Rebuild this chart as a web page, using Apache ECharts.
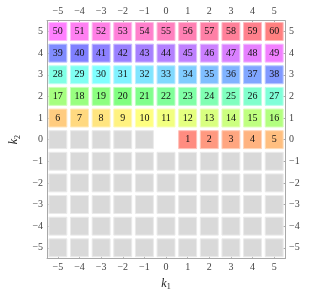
<!DOCTYPE html>
<html>
<head>
<meta charset="utf-8">
<script src="https://cdn.jsdelivr.net/npm/echarts@6/dist/echarts.min.js"></script>
<style>html,body{margin:0;padding:0;background:#fff;}#c{width:311px;height:296px;}</style>
</head>
<body>
<div id="c"></div>
<script>
// tick values on all four sides
const tickValues = [-5, -4, -3, -2, -1, 0, 1, 2, 3, 4, 5];
// k1 columns (left to right)
const k1Values = [-5, -4, -3, -2, -1, 0, 1, 2, 3, 4, 5];
// k2 rows (top to bottom)
const k2Values = [5, 4, 3, 2, 1, 0, -1, -2, -3, -4, -5];
// cell numbers per row; 0 = grey (unnumbered) cell, null = no cell
const row5  = [50, 51, 52, 53, 54, 55, 56, 57, 58, 59, 60];
const row4  = [39, 40, 41, 42, 43, 44, 45, 46, 47, 48, 49];
const row3  = [28, 29, 30, 31, 32, 33, 34, 35, 36, 37, 38];
const row2  = [17, 18, 19, 20, 21, 22, 23, 24, 25, 26, 27];
const row1  = [6, 7, 8, 9, 10, 11, 12, 13, 14, 15, 16];
const row0  = [0, 0, 0, 0, 0, null, 1, 2, 3, 4, 5];
const rowM1 = [0, 0, 0, 0, 0, 0, 0, 0, 0, 0, 0];
const rowM2 = [0, 0, 0, 0, 0, 0, 0, 0, 0, 0, 0];
const rowM3 = [0, 0, 0, 0, 0, 0, 0, 0, 0, 0, 0];
const rowM4 = [0, 0, 0, 0, 0, 0, 0, 0, 0, 0, 0];
const rowM5 = [0, 0, 0, 0, 0, 0, 0, 0, 0, 0, 0];
const rows = [row5, row4, row3, row2, row1, row0, rowM1, rowM2, rowM3, rowM4, rowM5];
const totalCount = 60;

const data = [];
rows.forEach((row, ri) => {
  row.forEach((n, ci) => {
    if (n === null) return;
    data.push([k1Values[ci], k2Values[ri], n]);
  });
});

function hsv(h, s, v) {
  const f = (n) => { const k = (n + h / 60) % 6; return v - v * s * Math.max(0, Math.min(k, 4 - k, 1)); };
  const to = (x) => Math.round(x * 255);
  return [to(f(5)), to(f(3)), to(f(1))];
}
function rgb(a) { return 'rgb(' + a.join(',') + ')'; }
function lighten(a, t) { return a.map(x => Math.round(x + (255 - x) * t)); }

const minus = (v) => String(v).replace('-', '\u2212');
const frameColor = '#a8a8a8';
const labelStyle = { fontFamily: 'Liberation Serif', fontSize: 10, color: '#444' };

function axis(pos, extra) {
  return Object.assign({
    type: 'value', min: -5.5, max: 5.5, position: pos,
    splitLine: { show: false },
    axisLine: { show: true, onZero: false, lineStyle: { color: frameColor, width: 1 } },
    axisTick: { show: true, inside: true, length: 3, customValues: tickValues, lineStyle: { color: frameColor } },
    axisLabel: Object.assign({ customValues: tickValues, formatter: minus, margin: 4 }, labelStyle)
  }, extra || {});
}

const chart = echarts.init(document.getElementById('c'), null, { renderer: 'canvas' });
chart.setOption({
  animation: false,
  backgroundColor: '#fff',
  grid: { left: 41.7, right: 26, top: 20.7, bottom: 32.7, containLabel: false },
  xAxis: [
    axis('bottom', {
      name: '{i|k}{s|1}', nameLocation: 'middle', nameGap: 16,
      nameTextStyle: { rich: {
        i: { fontFamily: 'Liberation Serif', fontStyle: 'italic', fontSize: 12, color: '#222' },
        s: { fontFamily: 'Liberation Serif', fontSize: 8, color: '#222', verticalAlign: 'top', padding: [7, 0, 0, 0] }
      } }
    }),
    axis('top')
  ],
  yAxis: [
    axis('left', {
      name: '{i|k}{s|2}', nameLocation: 'middle', nameGap: 18, nameRotate: 90,
      nameTextStyle: { rich: {
        i: { fontFamily: 'Liberation Serif', fontStyle: 'italic', fontSize: 12, color: '#222' },
        s: { fontFamily: 'Liberation Serif', fontSize: 8, color: '#222', verticalAlign: 'top', padding: [7, 0, 0, 0] }
      } }
    }),
    axis('right')
  ],
  series: [{
    type: 'custom',
    xAxisIndex: 0, yAxisIndex: 0,
    data: data,
    renderItem: function (params, api) {
      const x = api.value(0), y = api.value(1), n = api.value(2);
      const c = api.coord([x, y]);
      const s = api.size([1, 1]);
      const w = s[0] * 0.83, h = s[1] * 0.83;
      let fillArr;
      if (n > 0) fillArr = hsv((n / totalCount) * 360 % 360, 0.5, 1);
      else fillArr = [217, 217, 217];
      const children = [{
        type: 'rect',
        shape: { x: c[0] - w / 2, y: c[1] - h / 2, width: w, height: h },
        style: { fill: rgb(fillArr), stroke: rgb(lighten(fillArr, 0.45)), lineWidth: 1 }
      }];
      if (n > 0) {
        children.push({
          type: 'text',
          style: { text: String(n), x: c[0], y: c[1], align: 'center', verticalAlign: 'middle',
                   font: '10px "Liberation Serif"', fill: '#111' }
        });
      }
      return { type: 'group', children: children };
    }
  }]
});
</script>
</body>
</html>
